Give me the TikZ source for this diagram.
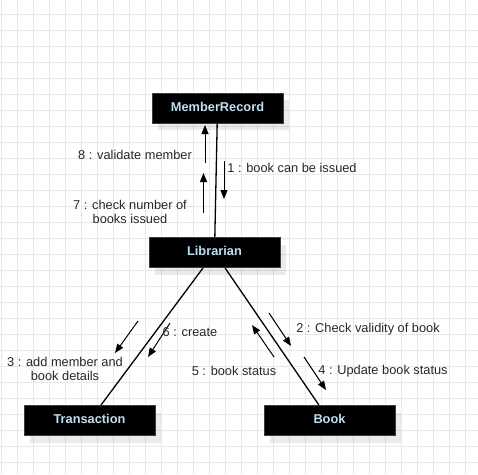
\documentclass[tikz,border=0pt]{standalone}
\usepackage{fontspec}
\setmainfont{Liberation Sans}
\usetikzlibrary{arrows.meta,shadows}
\definecolor{gridc}{RGB}{232,232,232}
\definecolor{boxtext}{RGB}{192,222,242}
\definecolor{boxborder}{RGB}{60,60,60}
\definecolor{labc}{RGB}{40,40,40}
\tikzset{
  objbox/.style={draw=boxborder, line width=1pt, fill=black, text=boxtext,
    minimum width=131pt, minimum height=30pt, inner sep=0pt,
    text height=9.5pt, text depth=3pt,
    font=\fontsize{12.8}{15}\selectfont\bfseries,
    general shadow={shadow xshift=6pt, shadow yshift=-7pt, fill=black, opacity=0.08}},
  link/.style={draw=black, line width=1.3pt},
  msg/.style={draw=black, line width=1pt, -{Triangle[length=9pt,width=7pt]}},
  lab/.style={text=labc, font=\fontsize{12.8}{13.5}\selectfont, align=center, inner sep=0pt}
}
\begin{document}
\begin{tikzpicture}[x=1pt,y=-1pt]
\useasboundingbox (0,0) rectangle (478,474);
\fill[white] (0,0) rectangle (478,474);
\foreach \gx in {1,17,...,478} \draw[gridc, line width=1pt] (\gx,0) -- (\gx,474);
\foreach \gy in {14,30,...,474} \draw[gridc, line width=1pt] (0,\gy) -- (478,\gy);

\node[objbox] (mr) at (217.5,108) {MemberRecord};
\node[objbox] (lib) at (214.5,252.5) {Librarian};
\node[objbox] (tr) at (89.5,420.5) {Transaction};
\node[objbox] (bk) at (329.5,420.5) {Book};

\draw[link] (mr) -- (lib);
\draw[link] (lib) -- (tr);
\draw[link] (lib) -- (bk);

% message arrow end points
\coordinate (m8a) at (205,163); \coordinate (m8b) at (205,125);
\coordinate (m7a) at (203.5,213); \coordinate (m7b) at (203.5,173);
\coordinate (m1a) at (224,161); \coordinate (m1b) at (224,199);
\coordinate (m3a) at (138,321); \coordinate (m3b) at (115,353);
\coordinate (m6a) at (170,323); \coordinate (m6b) at (148,357);
\coordinate (m2a) at (269,313); \coordinate (m2b) at (291,346);
\coordinate (m5a) at (274,357); \coordinate (m5b) at (252,325);
\coordinate (m4a) at (304,357); \coordinate (m4b) at (326,390);

\draw[msg] (m8a) -- (m8b);
\draw[msg] (m7a) -- (m7b);
\draw[msg] (m1a) -- (m1b);
\draw[msg] (m3a) -- (m3b);
\draw[msg] (m6a) -- (m6b);
\draw[msg] (m2a) -- (m2b);
\draw[msg] (m5a) -- (m5b);
\draw[msg] (m4a) -- (m4b);

\node[lab] (l8) at (135,155) {8 : validate member};
\node[lab] (l7) at (130,212) {7 : check number of\\books issued};
\node[lab] (l1) at (292,168) {1 : book can be issued};
\node[lab] (l3) at (65,369) {3 : add member and\\book details};
\node[lab] (l6) at (190,332) {6 : create};
\node[lab] (l5) at (234,371) {5 : book status};
\node[lab] (l2) at (368,329) {2 : Check validity of book};
\node[lab] (l4) at (383,371) {4 : Update book status};
\end{tikzpicture}
\end{document}
